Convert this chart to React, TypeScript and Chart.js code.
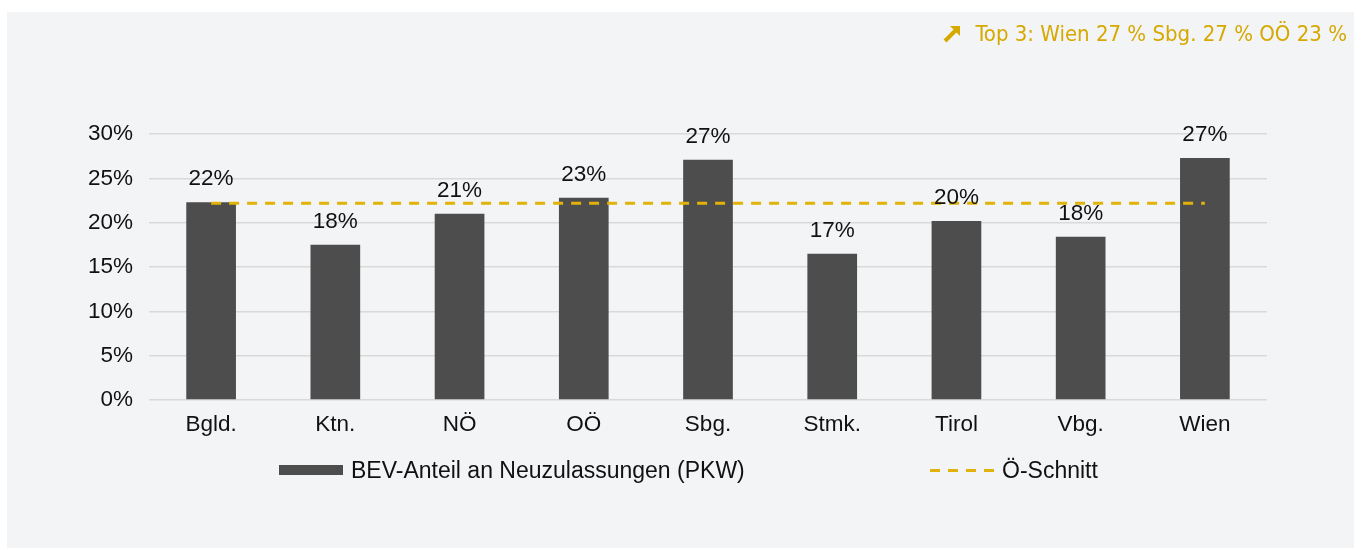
import React, { useEffect, useRef } from 'react';
import { Chart, registerables } from 'chart.js';

Chart.register(...registerables);

const categories = ['Bgld.', 'Ktn.', 'NÖ', 'OÖ', 'Sbg.', 'Stmk.', 'Tirol', 'Vbg.', 'Wien'];
const bevShare = [22.3, 17.5, 21.0, 22.8, 27.1, 16.5, 20.2, 18.4, 27.3];
const austriaAverage = [22.2, 22.2, 22.2, 22.2, 22.2, 22.2, 22.2, 22.2, 22.2];
const yTickMin = 0;
const yTickMax = 30;
const yTickStep = 5;
const seriesNames = ['BEV-Anteil an Neuzulassungen (PKW)', 'Ö-Schnitt'];
const top3Text = 'Top 3: Wien 27 % Sbg. 27 % OÖ 23 %';

const BAR_COLOR = '#4d4d4d';
const GOLD = '#e0b20a';
const GOLD_TEXT = '#d6a800';
const TEXT = '#111111';
const FONT = '"Liberation Sans", Arial, sans-serif';
const FS = 22.5;

const W = 1347;
const H = 536;

const dataLabelPlugin = {
  id: 'dataLabels',
  afterDatasetsDraw(chart: any) {
    const meta = chart.getDatasetMeta(1);
    const ctx = chart.ctx;
    ctx.save();
    ctx.font = `${FS}px ${FONT}`;
    ctx.fillStyle = TEXT;
    ctx.textAlign = 'center';
    ctx.textBaseline = 'middle';
    meta.data.forEach((bar: any, i: number) => {
      const v = bevShare[i];
      ctx.fillText(`${Math.round(v)}%`, bar.x, bar.y - 23);
    });
    ctx.restore();
  },
};

export default function App() {
  const ref = useRef<HTMLCanvasElement | null>(null);

  useEffect(() => {
    if (!ref.current) return;
    const chart = new Chart(ref.current, {
      type: 'bar',
      data: {
        labels: categories,
        datasets: [
          {
            type: 'line',
            label: seriesNames[1],
            data: austriaAverage,
            borderColor: GOLD,
            borderWidth: 3,
            borderDash: [10, 8],
            pointRadius: 0,
            fill: false,
            order: 1,
          } as any,
          {
            type: 'bar',
            label: seriesNames[0],
            data: bevShare,
            backgroundColor: BAR_COLOR,
            borderWidth: 0,
            barPercentage: 0.4,
            categoryPercentage: 1,
            order: 2,
          },
        ],
      },
      options: {
        responsive: false,
        animation: false,
        devicePixelRatio: 1,
        layout: { padding: { left: 80, right: 87, top: 122, bottom: 108 } },
        plugins: {
          legend: { display: false },
          tooltip: { enabled: false },
          title: { display: false },
        },
        scales: {
          x: {
            grid: { display: false, drawTicks: false },
            border: { display: false },
            ticks: { color: TEXT, font: { size: FS, family: FONT }, padding: 11, maxRotation: 0 },
            afterFit: (s: any) => { s.height = 40; },
          },
          y: {
            min: yTickMin,
            max: yTickMax,
            grid: { color: '#d9d9d9', lineWidth: 1.5, drawTicks: false },
            border: { display: false },
            ticks: {
              stepSize: yTickStep,
              color: TEXT,
              font: { size: FS, family: FONT },
              padding: 16,
              callback: (v: any) => `${v}%`,
            },
            afterFit: (s: any) => { s.width = 62; },
          },
        },
      },
      plugins: [dataLabelPlugin],
    });
    return () => chart.destroy();
  }, []);

  return (
    <div style={{ position: 'fixed', left: 0, top: 0, width: 1362, height: 550, background: '#ffffff' }}>
      <div style={{ position: 'absolute', left: 7, top: 12, width: W, height: H, background: '#f3f4f6' }}>
        <canvas ref={ref} width={W} height={H} style={{ position: 'absolute', left: 0, top: 0, width: W, height: H }} />
        <div
          style={{
            position: 'absolute',
            right: 7,
            top: 8,
            color: GOLD_TEXT,
            fontFamily: '"DejaVu Sans Condensed", "DejaVu Sans", sans-serif',
            fontSize: 22,
            whiteSpace: 'nowrap',
            lineHeight: '28px',
            display: 'flex',
            alignItems: 'center',
          }}
        >
          <svg width={18} height={18} viewBox="0 0 18 18" style={{ marginRight: 14 }}>
            <polygon points="7,1 17,1 17,11" fill={GOLD_TEXT} />
            <line x1={2} y1={16} x2={13} y2={5} stroke={GOLD_TEXT} strokeWidth={4} />
          </svg>
          <span>{top3Text}</span>
        </div>
        <div
          style={{
            position: 'absolute',
            left: 272,
            top: 445,
            display: 'flex',
            alignItems: 'center',
            height: 26,
            fontFamily: FONT,
            fontSize: 23,
            color: TEXT,
            whiteSpace: 'nowrap',
          }}
        >
          <div style={{ width: 64, height: 10, background: BAR_COLOR, marginRight: 8 }} />
          <span>{seriesNames[0]}</span>
        </div>
        <div
          style={{
            position: 'absolute',
            left: 923,
            top: 445,
            display: 'flex',
            alignItems: 'center',
            height: 26,
            fontFamily: FONT,
            fontSize: 23,
            color: TEXT,
            whiteSpace: 'nowrap',
          }}
        >
          <div
            style={{
              width: 64,
              height: 3,
              background: `repeating-linear-gradient(to right, ${GOLD} 0px, ${GOLD} 10px, transparent 10px, transparent 18px)`,
              marginRight: 8,
            }}
          />
          <span>{seriesNames[1]}</span>
        </div>
      </div>
    </div>
  );
}
